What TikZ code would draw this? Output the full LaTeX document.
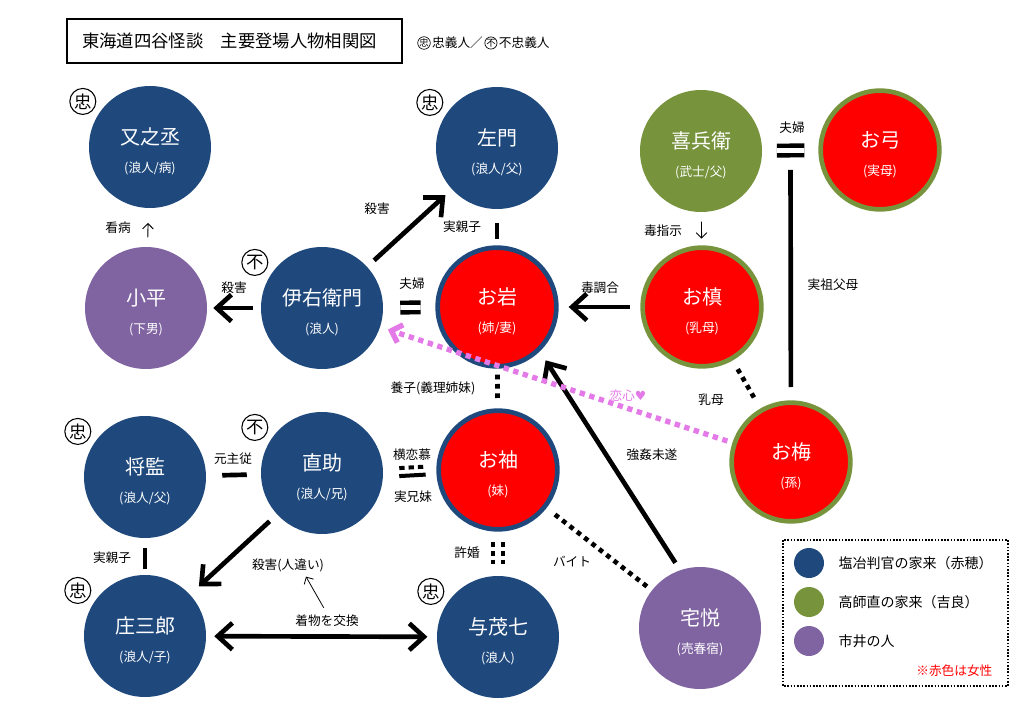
\documentclass[tikz,border=0pt]{standalone}
\usepackage{fontspec}
\setmainfont{Noto Sans CJK JP}
\newfontfamily\symfont{DejaVu Sans}
\usetikzlibrary{arrows.meta,positioning,calc}
\definecolor{akou}{RGB}{31,73,125}
\definecolor{kira}{RGB}{119,147,60}
\definecolor{shisei}{RGB}{128,100,162}
\definecolor{onnared}{RGB}{255,0,0}
\definecolor{koi}{RGB}{228,122,232}
\newcommand{\meibo}[2]{\rule{0pt}{19pt}#1\\[3pt]{\fontsize{9.5}{11}\selectfont #2}}
\tikzset{
	person/.style={circle, minimum size=91.5pt, inner sep=0pt, text=white, align=center, font=\fontsize{15}{18}\selectfont},
	ronin/.style={person, fill=akou},
	buke/.style={person, fill=kira},
	chonin/.style={person, fill=shisei},
	onna/.style={person, fill=onnared, draw=#1, line width=3.5pt, minimum size=89pt},
	badge/.style={circle, draw, line width=0.8pt, inner sep=0pt, minimum size=19.5pt, fill=white, text=black, font=\fontsize{13}{13}\selectfont},
	chu/.style={label={[badge, label distance=5pt]148:忠}},
	fuchu/.style={label={[badge, label distance=5pt]148:不}},
	lbl/.style={inner sep=1pt, font=\fontsize{9.5}{11}\selectfont},
	fatarrow/.style={line width=3.5pt, -{Straight Barb[length=11pt, width=20pt]}},
	hairarrow/.style={line width=0.7pt, -{Straight Barb[length=4pt, width=8pt]}},
	bar/.style={line width=3.5pt},
	dotline/.style={line width=3.5pt, dash pattern=on 3.5pt off 3.5pt},
}
\begin{document}
\begin{tikzpicture}[x=0.75pt, y=-0.75pt]
		\useasboundingbox (0,0) rectangle (1024,716);
		\node[draw, line width=1.5pt, anchor=west, minimum height=33pt, text width=229pt, inner xsep=11.25pt, font=\fontsize{13}{13}\selectfont] (title) at (66,41) {東海道四谷怪談　主要登場人物相関図};
		\node[badge, minimum size=8.5pt, line width=0.5pt, font=\fontsize{7}{7}\selectfont] (keychu) at (424,43) {忠};
		\node[lbl, right=0pt of keychu] (keychut) {忠義人／};
		\node[badge, minimum size=8.5pt, line width=0.5pt, font=\fontsize{7}{7}\selectfont, right=0pt of keychut] (keyfu) {不};
		\node[lbl, right=0pt of keyfu] (keyfut) {不忠義人};

		\node[ronin, chu] (matanojo) at (150,147) {\meibo{又之丞}{(浪人/病)}};
		\node[ronin, chu] (samon) at (497,148) {\meibo{左門}{(浪人/父)}};
		\node[buke] (kihei) at (701,151) {\meibo{喜兵衛}{(武士/父)}};
		\node[onna=kira] (oyumi) at (880,150) {\meibo{お弓}{(実母)}};
		\node[chonin] (kohei) at (146,308) {\meibo{小平}{(下男)}};
		\node[ronin, fuchu] (iemon) at (322,308) {\meibo{伊右衛門}{(浪人)}};
		\node[onna=akou] (oiwa) at (497,307) {\meibo{お岩}{(姉/妻)}};
		\node[onna=kira] (omaki) at (702,307) {\meibo{お槙}{(乳母)}};
		\node[onna=kira] (oume) at (791,462) {\meibo{お梅}{(孫)}};
		\node[ronin, chu] (shogen) at (145,477) {\meibo{将監}{(浪人/父)}};
		\node[ronin, fuchu] (naosuke) at (322,473) {\meibo{直助}{(浪人/兄)}};
		\node[onna=akou] (osode) at (498,470) {\meibo{お袖}{(妹)}};
		\node[ronin, chu] (shozaburo) at (145,636) {\meibo{庄三郎}{(浪人/子)}};
		\node[ronin, chu] (yomoshichi) at (498,637) {\meibo{与茂七}{(浪人)}};
		\node[chonin] (takuetsu) at (700,628) {\meibo{宅悦}{(売春宿)}};

		\draw[fatarrow, shorten <=6pt, shorten >=4.5pt] (iemon) -- (kohei);
		\draw[fatarrow, shorten <=7pt, shorten >=6.5pt] (iemon) -- (samon);
		\draw[fatarrow, shorten <=7.5pt, shorten >=7.5pt] (omaki) -- (oiwa);
		\draw[fatarrow, shorten <=6.5pt, shorten >=8pt] (takuetsu.109) -- (oiwa.-46);
		\draw[fatarrow, shorten <=7.5pt, shorten >=9pt] (naosuke) -- (shozaburo);
		\draw[fatarrow, {Straight Barb[length=11pt, width=20pt]}-{Straight Barb[length=11pt, width=20pt]}, shorten <=6pt, shorten >=7pt] (shozaburo) -- (yomoshichi);
		\draw[hairarrow, shorten <=7pt, shorten >=11pt] (kohei) -- (matanojo);
		\draw[hairarrow, shorten <=7pt, shorten >=5pt] (kihei) -- (omaki);

		\draw[bar, double, double distance=3.5pt, shorten <=12.75pt, shorten >=11pt] (iemon) -- (oiwa);
		\draw[bar, double, double distance=3.5pt, shorten <=11pt, shorten >=10.5pt] (kihei) -- (oyumi);
		\coordinate (fufu) at ($(kihei)!0.5!(oyumi)$);
		\draw[bar, shorten <=14.5pt, shorten >=10pt] (fufu) -- (oume);
		\draw[bar, shorten <=10.5pt, shorten >=4.5pt] (samon) -- (oiwa);
		\draw[bar, shorten <=12pt, shorten >=10.5pt] (shogen) -- (naosuke);
		\draw[bar, shorten <=7pt, shorten >=4.5pt] (shogen) -- (shozaburo);
		\draw[bar, line width=3pt, dash pattern=on 4pt off 3pt, shorten <=12pt, shorten >=8pt] ([yshift=3pt]naosuke.east) -- ([yshift=3pt]osode.west);
		\draw[bar, line width=3pt, shorten <=12pt, shorten >=8pt] ([yshift=-3pt]naosuke.east) -- ([yshift=-3pt]osode.west);

		\draw[dotline, shorten <=4.5pt, shorten >=6pt] (oiwa) -- (osode);
		\draw[dotline, line width=3pt, dash pattern=on 3.5pt off 3pt, shorten <=8pt, shorten >=8.5pt] ([xshift=-3.4pt]osode.south) -- ([xshift=-3.4pt]yomoshichi.north);
		\draw[dotline, line width=3pt, dash pattern=on 3.5pt off 3pt, shorten <=8pt, shorten >=8.5pt] ([xshift=3.4pt]osode.south) -- ([xshift=3.4pt]yomoshichi.north);
		\draw[dotline, shorten <=7.5pt, shorten >=9pt] (omaki) -- (oume);
		\draw[dotline, shorten <=8pt, shorten >=4pt] (osode) -- (takuetsu);
		\draw[dotline, koi, line width=4pt, dash pattern=on 4pt off 3.5pt, -{Straight Barb[length=7pt, width=14pt]}, shorten <=4pt, shorten >=6pt] (oume) -- (iemon);

		\node[lbl] at (118,228) {看病};
		\node[lbl] at (234,288) {殺害};
		\node[lbl] at (377,209) {殺害};
		\node[lbl] at (462,227) {実親子};
		\node[lbl] at (412,284) {夫婦};
		\node[lbl] at (600,288) {毒調合};
		\node[lbl] at (663,231) {毒指示};
		\node[lbl] at (792,128) {夫婦};
		\node[lbl] at (833,285) {実祖父母};
		\node[lbl] at (711,400) {乳母};
		\node[lbl, text=koi] at (628,396) {恋心{\symfont ♥}};
		\node[lbl] at (433,388) {養子(義理姉妹)};
		\node[lbl] at (412,455) {横恋慕};
		\node[lbl] at (413,497) {実兄妹};
		\node[lbl] at (233,459) {元主従};
		\node[lbl] at (112,558) {実親子};
		\node[lbl] at (652,455) {強姦未遂};
		\node[lbl] at (572,562) {バイト};
		\node[lbl] at (467,553) {許婚};
		\node[lbl] (hitochigai) at (288,565) {殺害(人違い)};
		\node[lbl] (kimono) at (327,621) {着物を交換};
		\draw[hairarrow, line width=0.6pt, shorten <=5pt, shorten >=3pt] (kimono.north) -- ([xshift=12pt]hitochigai.south);

		\draw[line width=1.2pt, dash pattern=on 1.2pt off 1.2pt] (783,540) rectangle (1008,686);
		\foreach \c/\t [count=\i] in {akou/塩冶判官の家来（赤穂）, kira/高師直の家来（吉良）, shisei/市井の人}
		{
			\node[circle, fill=\c, minimum size=22.5pt, inner sep=0pt] (key\i) at (809,{524+39*\i}) {};
			\node[font=\fontsize{10.5}{12}\selectfont, inner sep=0pt, right=10.5pt of key\i] {\t};
		}
		\node[lbl, text=onnared, anchor=east] at (994,671) {※赤色は女性};
		\end{tikzpicture}
\end{document}
